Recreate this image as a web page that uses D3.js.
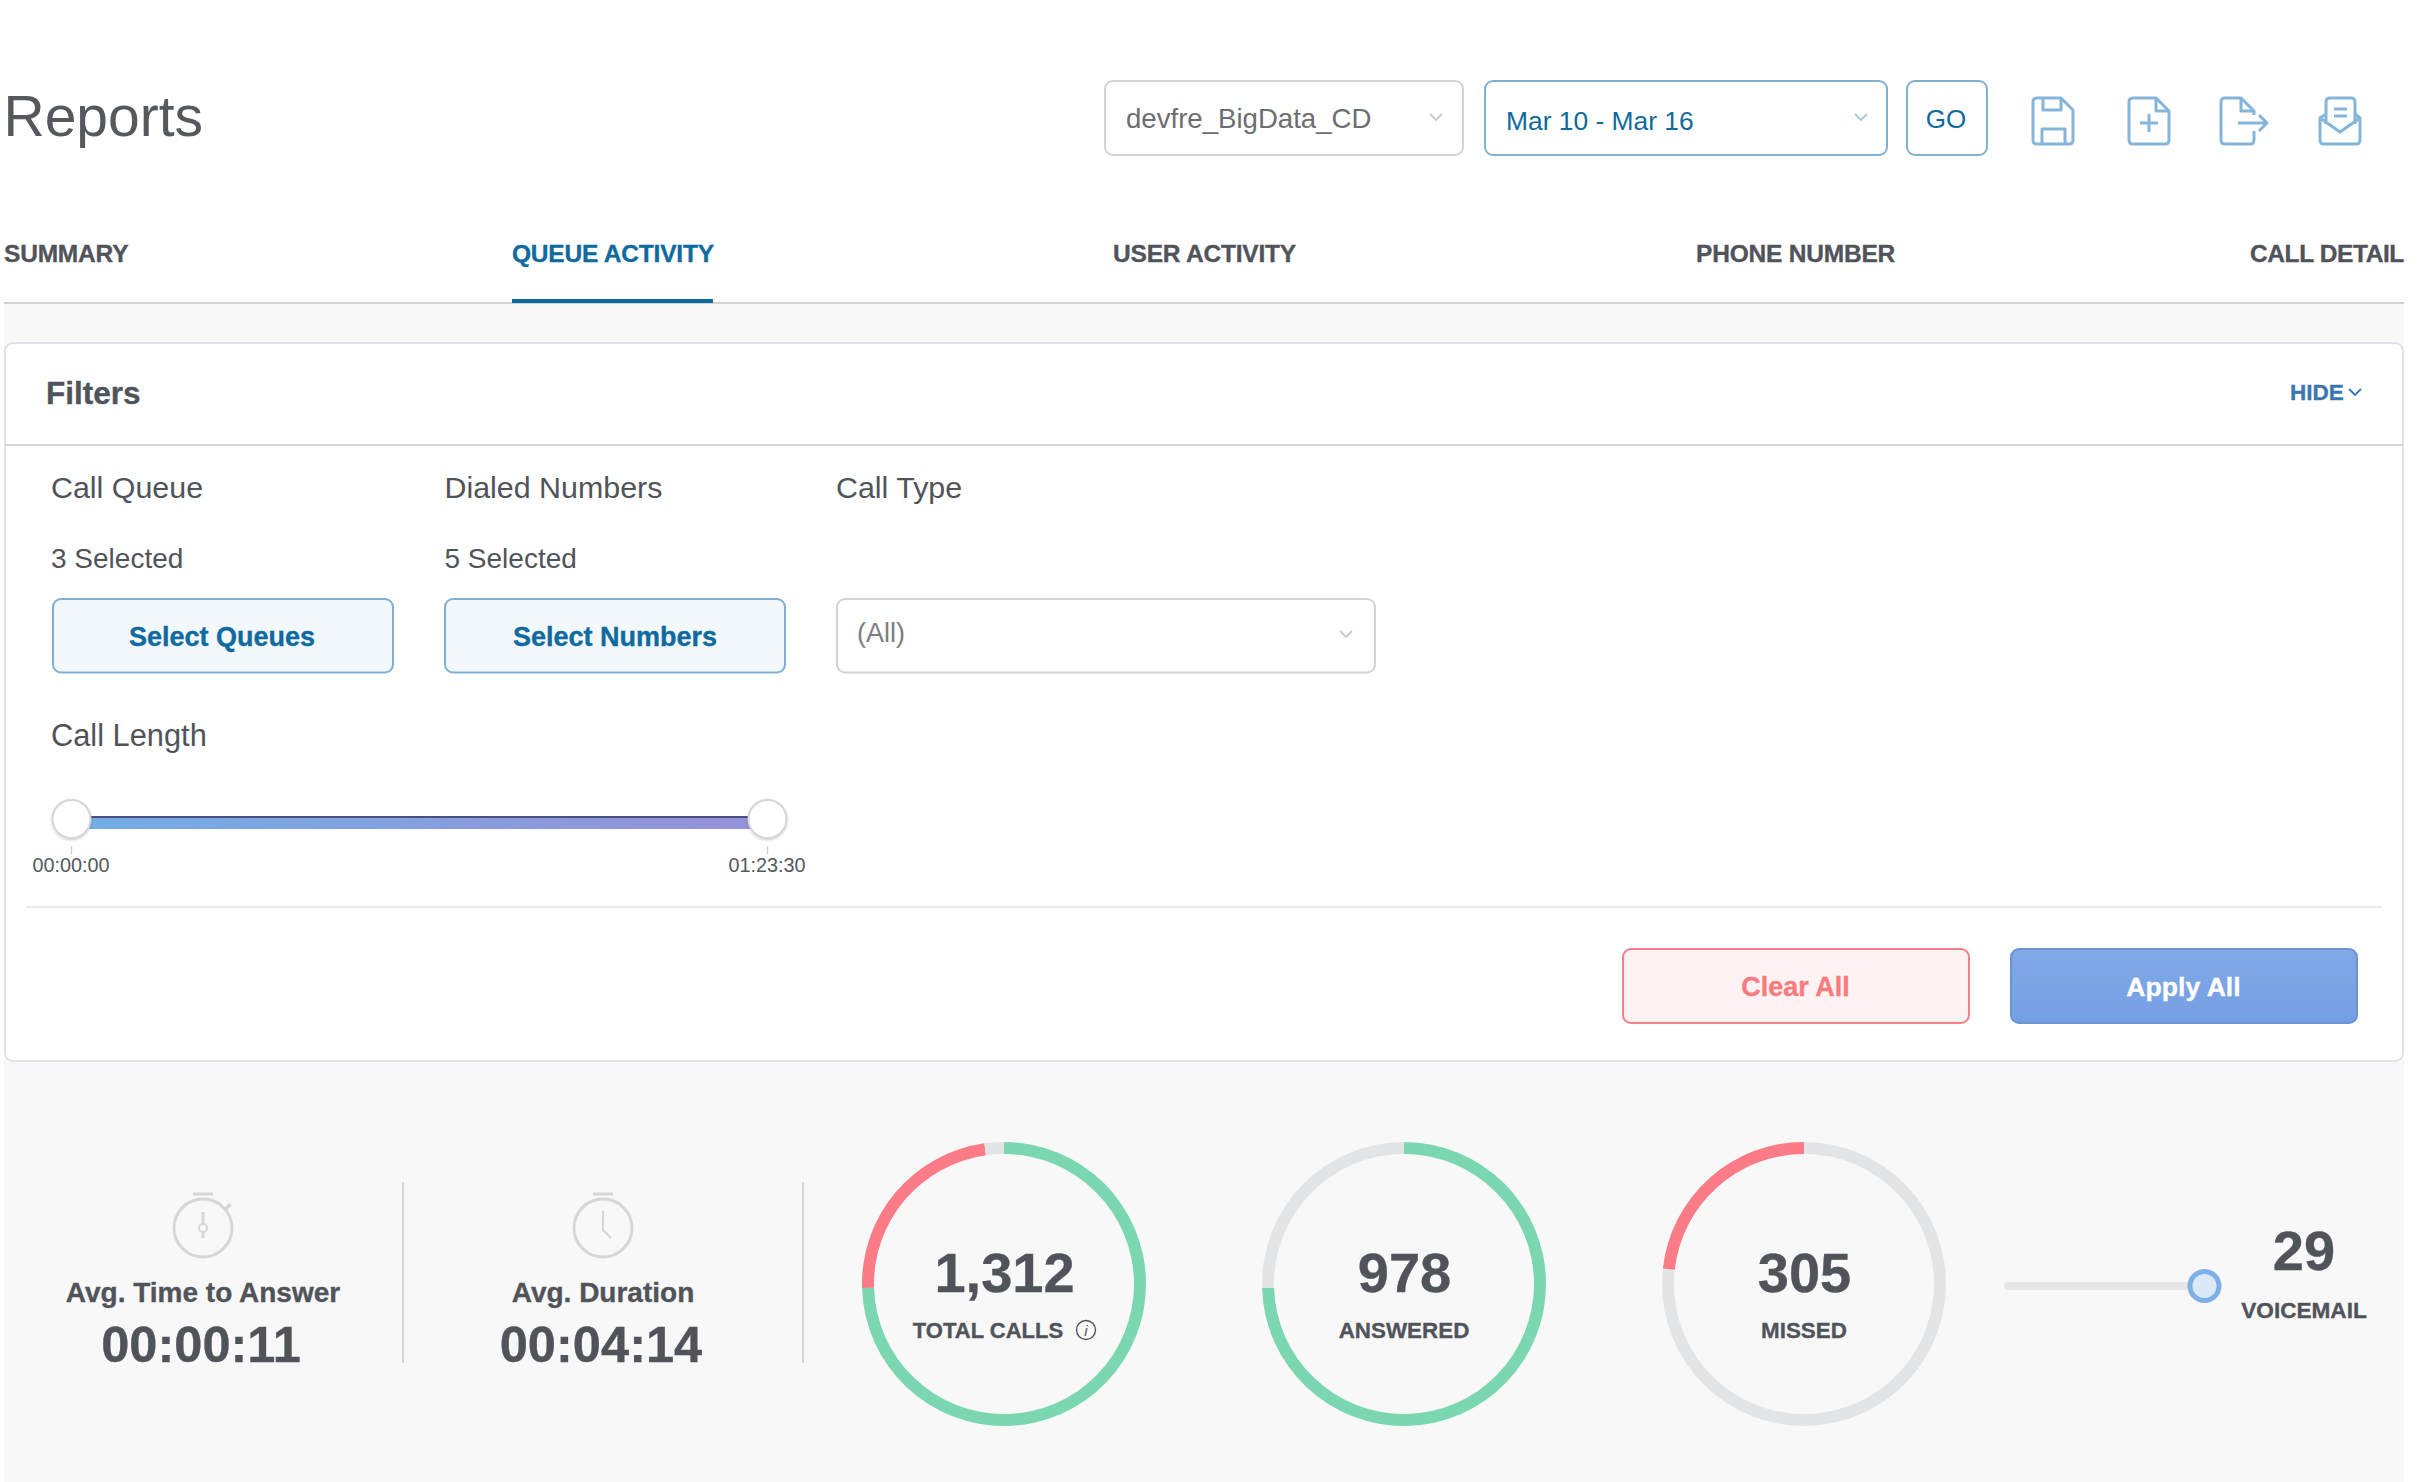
<!DOCTYPE html>
<html>
<head>
<meta charset="utf-8">
<title>Reports</title>
<script src="https://cdn.jsdelivr.net/npm/d3@7"></script>
<style>
  html, body { margin: 0; padding: 0; background: #fff; }
  svg { display: block; }
  text { font-family: "Liberation Sans", Arial, sans-serif; fill: #50545a; }
  .b { font-weight: 700; stroke: currentColor; stroke-width: 0.35; }
</style>
</head>
<body>
<svg id="chart" width="2418" height="1482"></svg>
<script>
const svg = d3.select("#chart");

const stats = { total: 1312, answered: 978, missed: 305, voicemail: 29 };
const BLUE = "#0f6a9f", GREEN = "#7bd6b2", RED = "#fb7c87", GREY = "#e3e4e6";

// helpers
function label(x, y, str, size, opts = {}) {
    const color = opts.color || "#50545a";
    return svg.append("text")
        .attr("x", x).attr("y", y)
        .attr("font-size", size)
        .attr("class", opts.bold ? "b" : null)
        .attr("text-anchor", opts.anchor || "start")
        .attr("letter-spacing", opts.spacing || null)
        .style("fill", color)
        .style("color", color)
        .text(str);
}
function box(x0, y0, x1, y1, fill, stroke, r = 8, sw = 2) {
    return svg.append("rect")
        .attr("x", x0).attr("y", y0)
        .attr("width", x1 - x0).attr("height", y1 - y0)
        .attr("rx", r)
        .attr("fill", fill).attr("stroke", stroke).attr("stroke-width", sw);
}
function chevron(x, y, color) {
    svg.append("path")
        .attr("d", `M${x - 6},${y - 3}L${x},${y + 3}L${x + 6},${y - 3}`)
        .attr("fill", "none").attr("stroke", color).attr("stroke-width", 1.8);
}

// page background
svg.append("rect").attr("x", 4).attr("y", 304).attr("width", 2400).attr("height", 1178).attr("fill", "#f8f8f9");

// title + top controls
label(3.5, 136, "Reports", 57, { color: "#55595e" });

box(1105, 81, 1463, 155, "#fff", "#d4d4d4");
label(1126, 128, "devfre_BigData_CD", 27.6, { color: "#6c6e71" });
chevron(1436, 117, "#c9c9c9");

box(1485, 81, 1887, 155, "#fff", "#7fb1d1");
label(1506, 130, "Mar 10 - Mar 16", 26.4, { color: BLUE });
chevron(1861, 117, "#a9c8dc");

box(1907, 81, 1987, 155, "#fff", "#7fb1d1");
label(1946, 128, "GO", 26, { color: BLUE, anchor: "middle" });

// toolbar icons
const icons = svg.append("g").attr("fill", "none").attr("stroke", "#85b5d9").attr("stroke-width", 3).attr("stroke-linejoin", "round");
function icon(x, y, paths) {
    const g = icons.append("g").attr("transform", `translate(${x},${y})`);
    paths.forEach(d => g.append("path").attr("d", d));
}
icon(2033, 98, ["M4,0H28L40,12V42Q40,46 36,46H4Q0,46 0,42V4Q0,0 4,0Z", "M10,0V12H28V0", "M9,46V31H32V46"]);
icon(2129, 98, ["M4,0H27L40,13V42Q40,46 36,46H4Q0,46 0,42V4Q0,0 4,0Z", "M27,0V13H40", "M20,16V34M11,25H29"]);
icon(2221, 98, ["M33,33V42Q33,46 29,46H4Q0,46 0,42V4Q0,0 4,0H20L33,13V17", "M20,0V13H33", "M17,25H46M38,17L46,25L38,33"]);
icon(2320, 98, ["M6,26V4Q6,0 10,0H31Q35,0 35,4V26", "M0,20V42Q0,46 4,46H36Q40,46 40,42V20L20,34Z", "M0,20L6,16M40,20L35,16", "M14,11H27M14,18H27"]);

// tabs
[["SUMMARY", 4], ["QUEUE ACTIVITY", 512], ["USER ACTIVITY", 1113], ["PHONE NUMBER", 1696], ["CALL DETAIL", 2250]]
    .forEach(([t, x], i) => label(x, 261.5, t, 24.5, { bold: true, color: i === 1 ? BLUE : "#50545a", spacing: i === 4 ? -0.4 : -0.2 }));
svg.append("rect").attr("x", 4).attr("y", 302).attr("width", 2400).attr("height", 2).attr("fill", "#d2d2d2");
svg.append("rect").attr("x", 512).attr("y", 299).attr("width", 201).attr("height", 4).attr("fill", BLUE);

// filter panel
box(5, 343, 2403, 1061, "#fff", "#dfe3e8", 8, 2);
svg.append("line").attr("x1", 5).attr("x2", 2403).attr("y1", 445).attr("y2", 445).attr("stroke", "#d6d6d8").attr("stroke-width", 2);
label(46, 404, "Filters", 31.5, { bold: true });
label(2290, 399.5, "HIDE", 22.5, { bold: true, color: "#3a77af" });
chevron(2355, 392, "#3a77af");

label(51, 497.5, "Call Queue", 30.4);
label(444.5, 497.5, "Dialed Numbers", 30.4);
label(836, 497.5, "Call Type", 30.4);
label(51, 568, "3 Selected", 28);
label(444.5, 568, "5 Selected", 28);

box(53, 599, 393, 672.5, "#f3f8fc", "#7fb0d4");
label(222, 646, "Select Queues", 27, { bold: true, color: BLUE, anchor: "middle" });
box(445, 599, 785, 672.5, "#f3f8fc", "#7fb0d4");
label(615, 646, "Select Numbers", 27, { bold: true, color: BLUE, anchor: "middle" });
box(837, 599, 1375, 672.5, "#fff", "#d4d4d4");
label(857, 642, "(All)", 27, { color: "#7c7e81" });
chevron(1346, 634, "#c9c9c9");

// call length slider
label(51, 746, "Call Length", 30.8);
const lengthMax = 5010; // 01:23:30 in seconds
const lengthX = d3.scaleLinear().domain([0, lengthMax]).range([71.5, 767.5]);
const fmt = s => [s / 3600, (s % 3600) / 60, s % 60].map(v => String(Math.floor(v)).padStart(2, "0")).join(":");

const defs = svg.append("defs");
const grad = defs.append("linearGradient").attr("id", "lengthGrad");
grad.append("stop").attr("offset", "0%").attr("stop-color", "#72aee4");
grad.append("stop").attr("offset", "100%").attr("stop-color", "#9790da");
const applyGrad = defs.append("linearGradient").attr("id", "applyGrad").attr("x1", 0).attr("x2", 0).attr("y1", 0).attr("y2", 1);
applyGrad.append("stop").attr("offset", "0%").attr("stop-color", "#82a9e8");
applyGrad.append("stop").attr("offset", "100%").attr("stop-color", "#749fe3");
const shadow = defs.append("filter").attr("id", "soft").attr("x", "-30%").attr("y", "-30%").attr("width", "160%").attr("height", "160%");
shadow.append("feDropShadow").attr("dx", 0).attr("dy", 1).attr("stdDeviation", 1.2).attr("flood-color", "#000").attr("flood-opacity", 0.22);

svg.append("rect").attr("x", lengthX(0)).attr("y", 816).attr("width", lengthX(lengthMax) - lengthX(0)).attr("height", 13).attr("fill", "url(#lengthGrad)");
svg.append("rect").attr("x", lengthX(0)).attr("y", 816).attr("width", lengthX(lengthMax) - lengthX(0)).attr("height", 2).attr("fill", "#4a4f7e");

[0, lengthMax].forEach(v => {
    const x = lengthX(v);
    svg.append("circle").attr("cx", x).attr("cy", 819).attr("r", 19)
        .attr("fill", "#fff").attr("stroke", "#d6d6d6").attr("stroke-width", 2).attr("filter", "url(#soft)");
    svg.append("line").attr("x1", x).attr("x2", x).attr("y1", 846).attr("y2", 854).attr("stroke", "#d0d0d0").attr("stroke-width", 1.5);
    label(x - 0.5, 872, fmt(v), 19.8, { anchor: "middle", color: "#55595e" });
});

svg.append("line").attr("x1", 26).attr("x2", 2382).attr("y1", 907).attr("y2", 907).attr("stroke", "#ececec").attr("stroke-width", 2);

box(1623, 949, 1969, 1023, "#fef2f2", "#f57f88");
label(1795.5, 996, "Clear All", 27, { bold: true, color: "#fb7a7f", anchor: "middle" });
box(2011, 949, 2357, 1023, "url(#applyGrad)", "#6d94d0");
label(2183.5, 996, "Apply All", 26.6, { bold: true, color: "#fff", anchor: "middle" });

// averages
function stopwatch(cx, crown) {
    const g = svg.append("g").attr("transform", `translate(${cx},1228)`)
        .attr("fill", "none").attr("stroke", "#d6d6d6").attr("stroke-width", 2.8);
    g.append("circle").attr("r", 29);
    g.append("path").attr("d", "M-10,-34H10").attr("stroke-width", 3);
    if (crown) {
        g.append("path").attr("d", "M21.5,-17.5L27.5,-24").attr("stroke-width", 3.5);
        g.append("path").attr("d", "M0,-16V-4M0,4V10");
        g.append("circle").attr("r", 4).attr("stroke-width", 2);
    } else {
        g.append("path").attr("d", "M0,-17V2L8,10").attr("stroke-width", 2);
    }
}
[{ x: 203, name: "Avg. Time to Answer", value: "00:00:11", crown: true },
 { x: 603, name: "Avg. Duration", value: "00:04:14", crown: false }].forEach(d => {
    stopwatch(d.x, d.crown);
    label(d.x, 1301.5, d.name, 28, { bold: true, anchor: "middle" });
    label(d.x - 2, 1362, d.value, 50.6, { bold: true, anchor: "middle" });
});
[403, 803].forEach(x => svg.append("line").attr("x1", x).attr("x2", x).attr("y1", 1182).attr("y2", 1363).attr("stroke", "#d4d4d4").attr("stroke-width", 2));

// rings
const pie = d3.pie().value(d => d.v).sort(null);
const arc = d3.arc().innerRadius(130).outerRadius(142);
const rest = v => stats.total - v;
const rings = [
    { cx: 1004, num: d3.format(",")(stats.total),
      parts: [{ v: stats.answered, c: GREEN }, { v: stats.missed, c: RED }, { v: stats.voicemail, c: GREY }] },
    { cx: 1404, num: String(stats.answered),
      parts: [{ v: stats.answered, c: GREEN }, { v: rest(stats.answered), c: GREY }] },
    { cx: 1804, num: String(stats.missed),
      parts: [{ v: rest(stats.missed), c: GREY }, { v: stats.missed, c: RED }] }
];
rings.forEach(r => {
    const g = svg.append("g").attr("transform", `translate(${r.cx},1284)`);
    g.selectAll("path").data(pie(r.parts)).join("path").attr("d", arc).attr("fill", d => d.data.c);
    label(r.cx + 0.5, 1291.5, r.num, 56, { bold: true, anchor: "middle" });
});
label(988, 1337.5, "TOTAL CALLS", 22, { bold: true, anchor: "middle" });
svg.append("circle").attr("cx", 1086).attr("cy", 1330).attr("r", 9.5).attr("fill", "none").attr("stroke", "#50545a").attr("stroke-width", 1.4);
label(1086, 1336, "i", 15, { anchor: "middle" }).style("font-style", "italic");
label(1404, 1337.5, "ANSWERED", 22.4, { bold: true, anchor: "middle" });
label(1804, 1337.5, "MISSED", 22.4, { bold: true, anchor: "middle" });

// voicemail slider
const vmX = d3.scaleLinear().domain([0, stats.voicemail]).range([2004, 2204.5]);
svg.append("rect").attr("x", vmX(0)).attr("y", 1282).attr("width", vmX(stats.voicemail) - vmX(0)).attr("height", 8).attr("rx", 4).attr("fill", "#e6e6e6");
svg.append("circle").attr("cx", vmX(stats.voicemail)).attr("cy", 1286).attr("r", 14.5)
    .attr("fill", "#dbe8f8").attr("stroke", "#7eb0e6").attr("stroke-width", 5);
label(2304, 1270, String(stats.voicemail), 56, { bold: true, anchor: "middle" });
label(2304, 1317.5, "VOICEMAIL", 22.6, { bold: true, anchor: "middle" });
</script>
</body>
</html>
